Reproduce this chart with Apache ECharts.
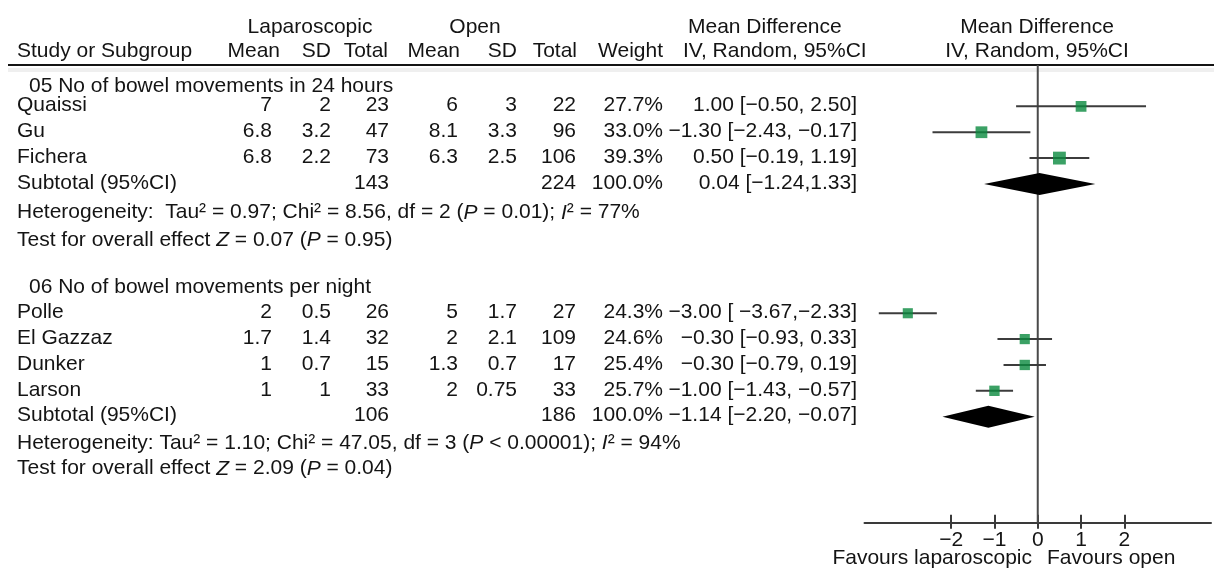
<!DOCTYPE html>
<html><head><meta charset="utf-8">
<script src="https://cdn.jsdelivr.net/npm/echarts@6/dist/echarts.min.js"></script>
<style>html,body{margin:0;padding:0;background:#fff}#c{width:1214px;height:573px}</style>
</head><body><div id="c"></div>
<script>
// ---------- DATA ----------
const studies   = ['Quaissi', 'Gu', 'Fichera', 'Polle', 'El Gazzaz', 'Dunker', 'Larson'];
const lapMean   = [7, 6.8, 6.8, 2, 1.7, 1, 1];
const lapSD     = [2, 3.2, 2.2, 0.5, 1.4, 0.7, 1];
const lapTotal  = [23, 47, 73, 26, 32, 15, 33];
const openMean  = [6, 8.1, 6.3, 5, 2, 1.3, 2];
const openSD    = [3, 3.3, 2.5, 1.7, 2.1, 0.7, 0.75];
const openTotal = [22, 96, 106, 27, 109, 17, 33];
const weights   = [27.7, 33.0, 39.3, 24.3, 24.6, 25.4, 25.7];
const md        = [1.00, -1.30, 0.50, -3.00, -0.30, -0.30, -1.00];
const mdLo      = [-0.50, -2.43, -0.19, -3.67, -0.93, -0.79, -1.43];
const mdHi      = [2.50, -0.17, 1.19, -2.33, 0.33, 0.19, -0.57];
const ciLabels  = ['1.00 [\u22120.50, 2.50]', '\u22121.30 [\u22122.43, \u22120.17]', '0.50 [\u22120.19, 1.19]',
                   '\u22123.00 [ \u22123.67,\u22122.33]', '\u22120.30 [\u22120.93, 0.33]', '\u22120.30 [\u22120.79, 0.19]',
                   '\u22121.00 [\u22121.43, \u22120.57]'];

const groupTitles   = ['05 No of bowel movements in 24 hours', '06 No of bowel movements per night'];
const subLapTotal   = [143, 106];
const subOpenTotal  = [224, 186];
const subWeight     = [100.0, 100.0];
const subMD         = [0.04, -1.14];
const subLo         = [-1.24, -2.20];
const subHi         = [1.33, -0.07];
const subCILabels   = ['0.04 [\u22121.24,1.33]', '\u22121.14 [\u22122.20, \u22120.07]'];
const hetTexts      = ['Heterogeneity:  Tau\u00b2 = 0.97; Chi\u00b2 = 8.56, df = 2 ({i|P} = 0.01); {i|I}\u00b2 = 77%',
                       'Heterogeneity: Tau\u00b2 = 1.10; Chi\u00b2 = 47.05, df = 3 ({i|P} < 0.00001); {i|I}\u00b2 = 94%'];
const testTexts     = ['Test for overall effect {i|Z} = 0.07 ({i|P} = 0.95)',
                       'Test for overall effect {i|Z} = 2.09 ({i|P} = 0.04)'];
const xTickValues   = [-2, -1, 0, 1, 2];

// ---------- LAYOUT ----------
const studyRow = [1, 2, 3, 9, 10, 11, 12];
const subRow   = [4, 13];
const groupRow = [0.25, 8.05];
const hetRow   = [5.15, 14.05];
const testRow  = [6.2, 15.05];
const col = {name: 17, group: 29, lapMean: 272, lapSD: 331, lapTotal: 389, openMean: 458, openSD: 517,
             openTotal: 576, weight: 663, ci: 857};
const ROW_MIN = -0.6, ROW_MAX = 17.1;
const GRID_TOP = 65, GRID_BOTTOM = 50.3;
const FONT_FAMILY = '"Liberation Sans", Arial, Helvetica, sans-serif';
const FS = 21;
const TXT = '#141414';

function fmtNum(v){ return String(v); }
function fmtPct(v){ return v.toFixed(1) + '%'; }

const cells = [];
function add(x, row, text, align){ cells.push({x, row, text, align}); }
studies.forEach((s, i) => {
  const r = studyRow[i];
  add(col.name, r, s, 'left');
  add(col.lapMean, r, fmtNum(lapMean[i]), 'right');
  add(col.lapSD, r, fmtNum(lapSD[i]), 'right');
  add(col.lapTotal, r, fmtNum(lapTotal[i]), 'right');
  add(col.openMean, r, fmtNum(openMean[i]), 'right');
  add(col.openSD, r, fmtNum(openSD[i]), 'right');
  add(col.openTotal, r, fmtNum(openTotal[i]), 'right');
  add(col.weight, r, fmtPct(weights[i]), 'right');
  add(col.ci, r, ciLabels[i], 'right');
});
groupTitles.forEach((g, k) => {
  add(col.group, groupRow[k], g, 'left');
  add(col.name, subRow[k], 'Subtotal (95%CI)', 'left');
  add(col.lapTotal, subRow[k], fmtNum(subLapTotal[k]), 'right');
  add(col.openTotal, subRow[k], fmtNum(subOpenTotal[k]), 'right');
  add(col.weight, subRow[k], fmtPct(subWeight[k]), 'right');
  add(col.ci, subRow[k], subCILabels[k], 'right');
  add(col.name, hetRow[k], hetTexts[k], 'left');
  add(col.name, testRow[k], testTexts[k], 'left');
});

const RICH = { i: { fontStyle: 'italic', fontSize: FS, fontFamily: FONT_FAMILY, fill: TXT } };

const chart = echarts.init(document.getElementById('c'), null, {renderer: 'canvas'});

const hdr = (x, y, text, align) => ({
  type: 'text', x, y, silent: true,
  style: {text, fontSize: FS, fontFamily: FONT_FAMILY, fill: TXT, align, verticalAlign: 'middle'}
});

chart.setOption({
  animation: false,
  backgroundColor: '#fff',
  grid: [
    {left: 0, right: 0, top: GRID_TOP, bottom: GRID_BOTTOM},
    {left: 864.5, right: 3, top: GRID_TOP, bottom: GRID_BOTTOM}
  ],
  xAxis: [
    {gridIndex: 0, type: 'value', min: 0, max: 1214, show: false},
    {gridIndex: 1, type: 'value', min: -4, max: 4, interval: 1, position: 'bottom',
     axisLine: {show: true, onZero: false, lineStyle: {color: '#3a3a3a', width: 2}},
     axisTick: {show: true, customValues: xTickValues, length: 6, lineStyle: {color: '#3a3a3a', width: 2}},
     axisLabel: {show: true, customValues: xTickValues, margin: 7, color: TXT, fontSize: FS, fontFamily: FONT_FAMILY,
                 formatter: v => (v < 0 ? '\u2212' + Math.abs(v) : String(v))},
     splitLine: {show: false}},
    {gridIndex: 1, type: 'value', min: -4, max: 4, interval: 1, position: 'bottom',
     axisLine: {show: false, onZero: false},
     axisTick: {show: true, inside: true, customValues: xTickValues, length: 8, lineStyle: {color: '#3a3a3a', width: 2}},
     axisLabel: {show: false}, splitLine: {show: false}}
  ],
  yAxis: [
    {gridIndex: 0, type: 'value', min: ROW_MIN, max: ROW_MAX, inverse: true, show: false},
    {gridIndex: 1, type: 'value', min: ROW_MIN, max: ROW_MAX, inverse: true, show: false}
  ],
  graphic: [
    hdr(310, 27, 'Laparoscopic', 'center'),
    hdr(475, 27, 'Open', 'center'),
    hdr(688, 27, 'Mean Difference', 'left'),
    hdr(1037, 27, 'Mean Difference', 'center'),
    hdr(17, 51.5, 'Study or Subgroup', 'left'),
    hdr(280, 51.5, 'Mean', 'right'),
    hdr(331, 51.5, 'SD', 'right'),
    hdr(388, 51.5, 'Total', 'right'),
    hdr(460, 51.5, 'Mean', 'right'),
    hdr(517, 51.5, 'SD', 'right'),
    hdr(577, 51.5, 'Total', 'right'),
    hdr(663, 51.5, 'Weight', 'right'),
    hdr(683, 51.5, 'IV, Random, 95%CI', 'left'),
    hdr(1037, 51.5, 'IV, Random, 95%CI', 'center'),
    hdr(1032, 558, 'Favours laparoscopic', 'right'),
    hdr(1047, 558, 'Favours open', 'left'),
    {type: 'line', silent: true, shape: {x1: 8, y1: 70, x2: 1214, y2: 70}, style: {stroke: '#efefef', lineWidth: 4}},
    {type: 'line', silent: true, shape: {x1: 8, y1: 65, x2: 1214, y2: 65}, style: {stroke: '#141414', lineWidth: 2}}
  ],
  series: [
    { // table text
      type: 'custom', xAxisIndex: 0, yAxisIndex: 0, silent: true,
      data: cells.map(c => [c.x, c.row]),
      renderItem: (params, api) => {
        const c = cells[params.dataIndex];
        const p = api.coord([api.value(0), api.value(1)]);
        return {type: 'text', x: p[0], y: p[1] - 1,
                style: {text: c.text, align: c.align, verticalAlign: 'middle', fill: TXT,
                        fontSize: FS, fontFamily: FONT_FAMILY, rich: RICH}};
      }
    },
    { // line of no effect
      type: 'line', xAxisIndex: 1, yAxisIndex: 1, silent: true, symbol: 'none', z: 1,
      data: [[0, ROW_MIN], [0, ROW_MAX]],
      lineStyle: {color: '#4a4a4a', width: 2}
    },
    { // CI whiskers
      type: 'custom', xAxisIndex: 1, yAxisIndex: 1, silent: true, z: 2,
      data: studies.map((s, i) => [mdLo[i], mdHi[i], studyRow[i]]),
      renderItem: (params, api) => {
        const a = api.coord([api.value(0), api.value(2)]);
        const b = api.coord([api.value(1), api.value(2)]);
        return {type: 'line', shape: {x1: a[0], y1: a[1], x2: b[0], y2: b[1]},
                style: {stroke: '#3c3c3c', lineWidth: 2}};
      }
    },
    { // study squares
      type: 'scatter', xAxisIndex: 1, yAxisIndex: 1, silent: true, z: 3,
      symbol: 'rect',
      data: md.map((m, i) => [m, studyRow[i], weights[i]]),
      symbolSize: v => Math.sqrt(v[2]) * 2.05,
      itemStyle: {color: '#0a8a3e'}
    },
    { // subtotal diamonds
      type: 'custom', xAxisIndex: 1, yAxisIndex: 1, silent: true, z: 3,
      data: subMD.map((m, k) => [subLo[k], m, subHi[k], subRow[k]]),
      renderItem: (params, api) => {
        const r = api.value(3);
        const l = api.coord([api.value(0), r]);
        const c = api.coord([api.value(1), r]);
        const h = api.coord([api.value(2), r]);
        const hh = 11;
        return {type: 'polygon',
                shape: {points: [[l[0], l[1]], [c[0], c[1] - hh], [h[0], h[1]], [c[0], c[1] + hh]]},
                style: {fill: '#000'}};
      }
    }
  ]
});
</script></body></html>
